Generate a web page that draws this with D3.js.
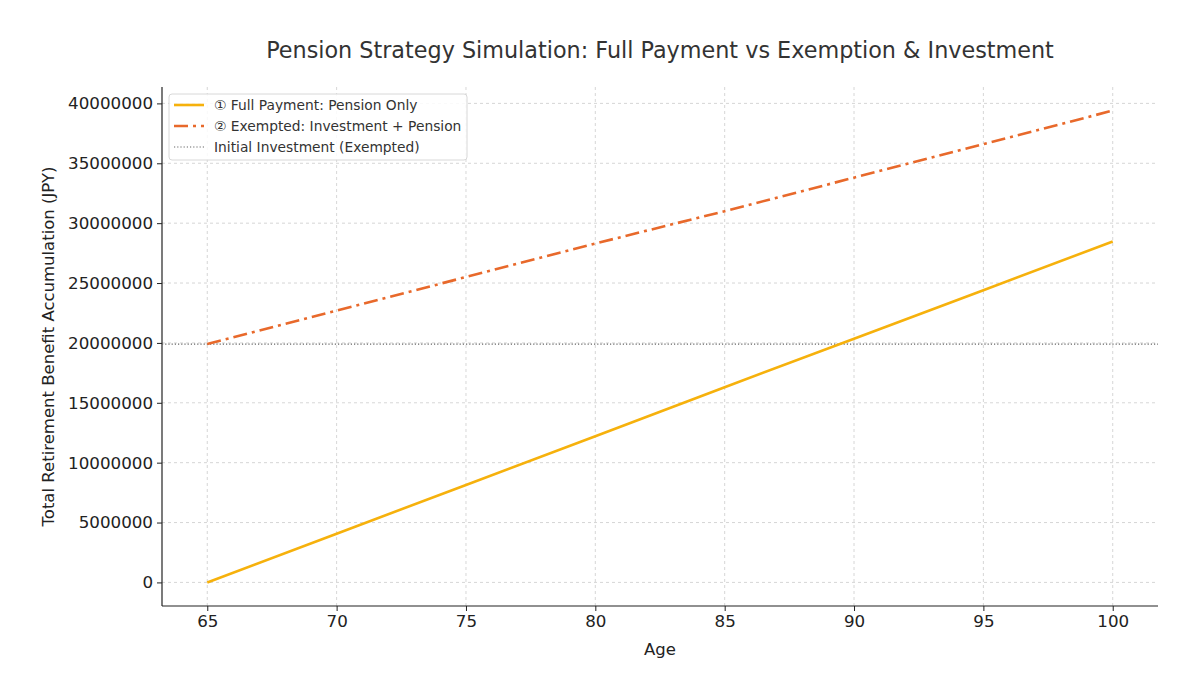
<!DOCTYPE html>
<html>
<head>
<meta charset="utf-8">
<script src="https://cdn.jsdelivr.net/npm/d3@7"></script>
<style>
  html, body { margin: 0; padding: 0; background: #fff; }
  svg { font-family: "DejaVu Sans", sans-serif; }
</style>
</head>
<body>
<div id="chart"></div>
<script>
// ages and accumulated totals (JPY)
const ages = [65, 70, 75, 80, 85, 90, 95, 100];
const fullPayment = [0, 4070000, 8140000, 12200000, 16300000, 20350000, 24400000, 28470000];
const exempted = [19900000, 22700000, 25500000, 28300000, 31000000, 33800000, 36600000, 39400000];
const initialInvestment = 19900000;
const xTicks = [65, 70, 75, 80, 85, 90, 95, 100];
const yTicks = [0, 5000000, 10000000, 15000000, 20000000, 25000000, 30000000, 35000000, 40000000];
const legendLabels = ["① Full Payment: Pension Only", "② Exempted: Investment + Pension", "Initial Investment (Exempted)"];

const W = 1200, H = 700;
const m = { left: 162, right: 42, top: 87, bottom: 94 };

const svg = d3.select("#chart").append("svg")
  .attr("width", W).attr("height", H);

// matplotlib-style 5% margins
const x = d3.scaleLinear().domain([63.25, 101.75]).range([m.left, W - m.right]);
const y = d3.scaleLinear().domain([-1970000, 41370000]).range([H - m.bottom, m.top]);

// grid
svg.append("g")
  .selectAll("line.vx")
  .data(xTicks)
  .join("line")
  .attr("x1", d => x(d)).attr("x2", d => x(d))
  .attr("y1", m.top).attr("y2", H - m.bottom)
  .attr("stroke", "#cccccc").attr("stroke-width", 0.8)
  .attr("stroke-dasharray", "3,3");

svg.append("g")
  .selectAll("line.hy")
  .data(yTicks)
  .join("line")
  .attr("x1", m.left).attr("x2", W - m.right)
  .attr("y1", d => y(d)).attr("y2", d => y(d))
  .attr("stroke", "#cccccc").attr("stroke-width", 0.8)
  .attr("stroke-dasharray", "3,3");

// axes
const xAxis = svg.append("g")
  .attr("transform", `translate(0,${H - m.bottom})`)
  .call(d3.axisBottom(x).tickValues(xTicks).tickSize(5).tickPadding(4).tickFormat(d3.format("d")));
const yAxis = svg.append("g")
  .attr("transform", `translate(${m.left},0)`)
  .call(d3.axisLeft(y).tickValues(yTicks).tickSize(5).tickPadding(4).tickFormat(d3.format("d")));

[xAxis, yAxis].forEach(a => {
  a.select(".domain").attr("stroke", "#222").attr("stroke-width", 1.2);
  a.selectAll(".tick line").attr("stroke", "#222");
  a.selectAll(".tick text").attr("fill", "#222").style("font-size", "16.7px")
    .style("font-family", "'DejaVu Sans', sans-serif");
});
// full-width spines
xAxis.select(".domain").attr("d", `M${m.left},0H${W - m.right}`);
yAxis.select(".domain").attr("d", `M0,${m.top}V${H - m.bottom}`);

// initial investment reference line
svg.append("line")
  .attr("x1", m.left).attr("x2", W - m.right)
  .attr("y1", y(initialInvestment)).attr("y2", y(initialInvestment))
  .attr("stroke", "#666").attr("stroke-width", 1.2)
  .attr("stroke-dasharray", "1.2,2");

const line = d3.line().x(d => x(d[0])).y(d => y(d[1]));

svg.append("path")
  .datum(ages.map((a, i) => [a, fullPayment[i]]))
  .attr("d", line)
  .attr("fill", "none")
  .attr("stroke", "#f6b10c")
  .attr("stroke-width", 2.6);

svg.append("path")
  .datum(ages.map((a, i) => [a, exempted[i]]))
  .attr("d", line)
  .attr("fill", "none")
  .attr("stroke", "#e8692b")
  .attr("stroke-width", 2.6)
  .attr("stroke-dasharray", "14,5,3,5");

// title and labels
svg.append("text")
  .attr("x", (m.left + W - m.right) / 2).attr("y", 58)
  .attr("text-anchor", "middle")
  .attr("fill", "#333")
  .style("font-size", "22.3px")
  .text("Pension Strategy Simulation: Full Payment vs Exemption & Investment");

svg.append("text")
  .attr("x", (m.left + W - m.right) / 2).attr("y", 655)
  .attr("text-anchor", "middle")
  .attr("fill", "#222")
  .style("font-size", "16.5px")
  .text("Age");

svg.append("text")
  .attr("transform", `translate(54,${(m.top + H - m.bottom) / 2}) rotate(-90)`)
  .attr("text-anchor", "middle")
  .attr("fill", "#222")
  .style("font-size", "16.5px")
  .text("Total Retirement Benefit Accumulation (JPY)");

// legend
const lg = svg.append("g").attr("transform", "translate(169,94)");
lg.append("rect")
  .attr("width", 298).attr("height", 66).attr("rx", 3)
  .attr("fill", "#fff").attr("fill-opacity", 0.85)
  .attr("stroke", "#d8d8d8");

const legendStyles = [
  { color: "#f6b10c", dash: null, w: 2.6 },
  { color: "#e8692b", dash: "14,5,3,5", w: 2.6 },
  { color: "#666", dash: "1.2,2", w: 1.2 }
];
legendLabels.forEach((label, i) => {
  const yy = 11 + i * 21;
  lg.append("line")
    .attr("x1", 5).attr("x2", 35).attr("y1", yy).attr("y2", yy)
    .attr("stroke", legendStyles[i].color)
    .attr("stroke-width", legendStyles[i].w)
    .attr("stroke-dasharray", legendStyles[i].dash);
  lg.append("text")
    .attr("x", 45).attr("y", yy + 5)
    .attr("fill", "#333")
    .style("font-size", "13.8px")
    .text(label);
});
</script>
</body>
</html>
